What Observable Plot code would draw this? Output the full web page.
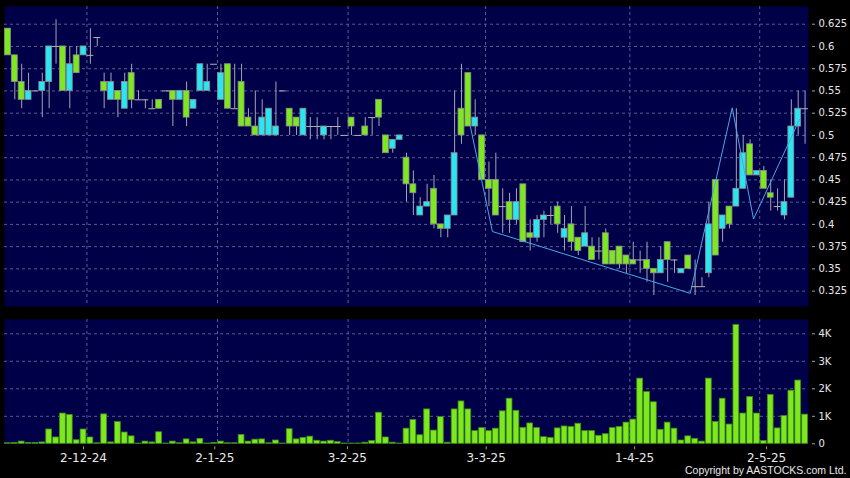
<!DOCTYPE html>
<html><head><meta charset="utf-8">
<script src="https://cdn.jsdelivr.net/npm/d3@7"></script>
<script src="https://cdn.jsdelivr.net/npm/@observablehq/plot@0.6"></script>
<style>
html,body{margin:0;padding:0;background:#000;}
#chart svg{display:block;}
</style></head><body><div id="chart"></div>
<script>
// ---- data (one entry per trading day) ----
const open  = [.62,.59,.56,.54,.55,.55,.56,.60,.60,.55,.59,.59,.59,.61,.56,.54,.55,.53,.57,.54,
  .54,.53,.54,.55,.55,.54,.55,.53,.55,.55,.58,.54,.58,.53,.56,.52,.51,.50,.50,.50,
  .55,.53,.52,.50,.51,.51,.50,.51,.51,.50,.52,.50,.51,.52,.54,.50,.485,.495,.475,.445,
  .41,.42,.44,.40,.395,.41,.53,.57,.51,.50,.45,.45,.42,.425,.405,.445,.39,.385,.405,.41,
  .42,.385,.40,.385,.375,.375,.37,.39,.37,.375,.365,.36,.36,.36,.35,.345,.38,.36,.345,.365,
  .33,.33,.345,.45,.395,.42,.42,.44,.49,.455,.46,.435,.42,.41,.43,.51,.53];
const high  = [.62,.59,.58,.57,.55,.57,.60,.63,.60,.60,.60,.60,.62,.61,.57,.57,.55,.57,.58,.55,
  .54,.54,.54,.55,.55,.55,.56,.54,.58,.58,.58,.58,.58,.58,.58,.53,.55,.54,.53,.56,
  .55,.53,.52,.53,.52,.52,.51,.51,.52,.50,.52,.50,.52,.52,.54,.50,.495,.50,.48,.46,
  .43,.445,.455,.40,.41,.55,.58,.57,.54,.50,.47,.48,.44,.435,.44,.445,.405,.41,.415,.42,
  .425,.41,.42,.385,.42,.385,.385,.395,.37,.375,.365,.38,.37,.38,.35,.375,.38,.36,.35,.365,
  .36,.34,.425,.45,.41,.42,.53,.50,.495,.46,.465,.45,.44,.45,.54,.55,.55];
const low   = [.59,.54,.53,.54,.55,.52,.53,.58,.55,.53,.57,.59,.58,.60,.53,.54,.52,.53,.53,.54,
  .53,.53,.53,.55,.51,.54,.51,.53,.55,.55,.58,.54,.53,.53,.51,.51,.50,.50,.50,.50,
  .55,.50,.50,.50,.495,.495,.495,.495,.50,.50,.50,.50,.50,.50,.51,.48,.48,.495,.425,.41,
  .41,.42,.395,.385,.385,.41,.49,.51,.50,.45,.42,.41,.39,.39,.40,.38,.37,.38,.385,.40,
  .39,.37,.37,.365,.375,.36,.36,.355,.355,.35,.345,.355,.345,.335,.32,.345,.335,.345,.345,.35,
  .32,.33,.34,.365,.38,.395,.42,.44,.455,.455,.44,.415,.415,.405,.43,.50,.49];
const close = [.59,.56,.54,.55,.55,.56,.60,.60,.55,.58,.57,.60,.59,.61,.55,.56,.54,.56,.54,.54,
  .54,.53,.53,.55,.54,.55,.52,.54,.58,.56,.58,.57,.53,.53,.51,.51,.50,.52,.53,.51,
  .55,.51,.51,.53,.51,.51,.51,.51,.51,.50,.51,.50,.50,.52,.52,.48,.495,.50,.445,.435,
  .42,.425,.40,.395,.41,.48,.50,.51,.52,.45,.44,.41,.42,.405,.425,.38,.385,.405,.41,.41,
  .40,.395,.38,.37,.39,.36,.37,.355,.355,.355,.355,.355,.36,.35,.345,.36,.36,.36,.35,.35,
  .33,.33,.40,.365,.41,.40,.44,.48,.455,.46,.44,.43,.42,.425,.51,.53,.53];
// volume in thousands of shares
const volume = [0.02,0.03,0.08,0.03,0.03,0.05,0.52,0.23,1.10,1.05,0.13,0.52,0.23,0.02,1.07,0.05,0.79,0.41,0.27,0.01,
  0.08,0.05,0.42,0.01,0.08,0.02,0.16,0.05,0.18,0.01,0.03,0.08,0.02,0.02,0.32,0.08,0.15,0.16,0.02,0.12,
  0.01,0.53,0.16,0.21,0.26,0.11,0.08,0.11,0.06,0.01,0.01,0.01,0.04,0.10,1.13,0.23,0.04,0.01,0.55,0.87,
  0.31,1.25,0.48,0.97,0.04,1.25,1.54,1.25,0.46,0.57,0.46,0.55,1.18,1.64,1.20,0.58,0.74,0.57,0.24,0.21,
  0.56,0.63,0.61,0.73,0.46,0.46,0.29,0.35,0.57,0.61,0.77,0.88,2.37,1.88,1.51,0.51,0.77,0.55,0.12,0.27,
  0.18,0.08,2.37,0.79,1.64,0.70,4.32,1.10,1.70,1.10,0.10,1.78,0.56,1.01,1.93,2.30,1.06];
// zig-zag line (day position, price)
const zigDay   = [67.3, 70.5, 99.3, 105.4, 108.5, 115.2];
const zigPrice = [0.51, 0.392, 0.3225, 0.531, 0.406, 0.518];
// axis ticks
const priceTicks = [0.325,0.35,0.375,0.4,0.425,0.45,0.475,0.5,0.525,0.55,0.575,0.6,0.625];
const volumeTicks = [0,1,2,3,4];
const dateLabels = ["2-12-24","2-1-25","3-2-25","3-3-25","1-4-25","2-5-25"];
const dateTickAt = [11, 30.1, 49.4, 69.6, 91.2, 110.4];
const monthGridAt = [11.5, 30.5, 49.5, 69.5, 90.5, 109.4];

// ---- build ----
const candles = open.map((o, i) => ({i, o, h: high[i], l: low[i], c: close[i], v: volume[i]}));
const zig = zigDay.map((d, k) => ({d, p: zigPrice[k]}));
const xDomain = [-0.5, open.length - 0.5];
const NAVY = "#000048", GRID = "#5a5a8e", GREEN = "#7ee81e", CYAN = "#28e6f2";
const TXT = "#e8e8e8", TICK = "#a0a0a0";
const dash = {stroke: GRID, strokeDasharray: "3,3", strokeWidth: 1};
const labelAt = new Map(dateTickAt.map((p, k) => [p, dateLabels[k]]));
const fmtP = d => String(+d.toFixed(3));

const main = Plot.plot({
  width: 850, height: 312,
  marginTop: 6, marginBottom: 6, marginLeft: 4, marginRight: 42,
  style: {background: "#000", fontFamily: "DejaVu Sans", fontSize: "10px", color: TXT},
  x: {domain: xDomain, axis: null},
  y: {domain: [0.3077, 0.6449], axis: null},
  marks: [
    Plot.frame({fill: NAVY, stroke: null}),
    Plot.ruleY(priceTicks, dash),
    Plot.ruleX(monthGridAt, dash),
    Plot.ruleX(candles, {x: "i", y1: "l", y2: "h", stroke: "#a4a4b0", strokeWidth: 1}),
    Plot.rectY(candles.filter(d => d.c > d.o), {x1: d => d.i - 0.43, x2: d => d.i + 0.43, y1: "o", y2: "c", fill: CYAN, stroke: "#8c8c8c", strokeWidth: 0.8}),
    Plot.rectY(candles.filter(d => d.c < d.o), {x1: d => d.i - 0.43, x2: d => d.i + 0.43, y1: "o", y2: "c", fill: GREEN, stroke: "#8c8c8c", strokeWidth: 0.8}),
    Plot.ruleY(candles.filter(d => d.c === d.o), {y: "o", x1: d => d.i - 0.5, x2: d => d.i + 0.5, stroke: "#b4b4b4", strokeWidth: 1}),
    Plot.line(zig, {x: "d", y: "p", stroke: "#4aa6e8", strokeWidth: 1}),
    Plot.axisY(priceTicks, {anchor: "right", label: null, tickSize: 3, tickPadding: 4, dx: 3, tickFormat: fmtP, stroke: TICK, fill: TXT, fontSize: 10})
  ]
});

const vol = Plot.plot({
  width: 850, height: 166,
  marginTop: 7, marginBottom: 34.7, marginLeft: 4, marginRight: 42,
  style: {background: "#000", fontFamily: "DejaVu Sans", fontSize: "10px", color: TXT},
  x: {domain: xDomain, axis: null},
  y: {domain: [0, 4.52], axis: null},
  marks: [
    Plot.frame({fill: NAVY, stroke: null}),
    Plot.ruleY(volumeTicks.filter(d => d > 0), dash),
    Plot.ruleX(monthGridAt, dash),
    Plot.rectY(candles, {x1: d => d.i - 0.42, x2: d => d.i + 0.42, y1: 0, y2: "v", fill: GREEN, stroke: "#3f8f14", strokeWidth: 0.8}),
    Plot.axisY(volumeTicks, {anchor: "right", label: null, tickSize: 3, tickPadding: 4, dx: 3, tickFormat: d => d === 0 ? "0" : d + "K", stroke: TICK, fill: TXT, fontSize: 10}),
    Plot.axisX(dateTickAt, {anchor: "bottom", label: null, tickSize: 3, tickPadding: 4, dy: 3, tickFormat: d => labelAt.get(d), stroke: TICK, fill: TXT, fontSize: 12}),
    Plot.text(["Copyright by AASTOCKS.com Ltd."], {frameAnchor: "bottom-right", textAnchor: "end", lineAnchor: "bottom", dx: 38, dy: 30, fill: TXT, fontSize: 10.5, fontFamily: "Liberation Sans"})
  ]
});

const root = document.getElementById("chart");
root.appendChild(main);
root.appendChild(vol);
</script>
</body></html>
